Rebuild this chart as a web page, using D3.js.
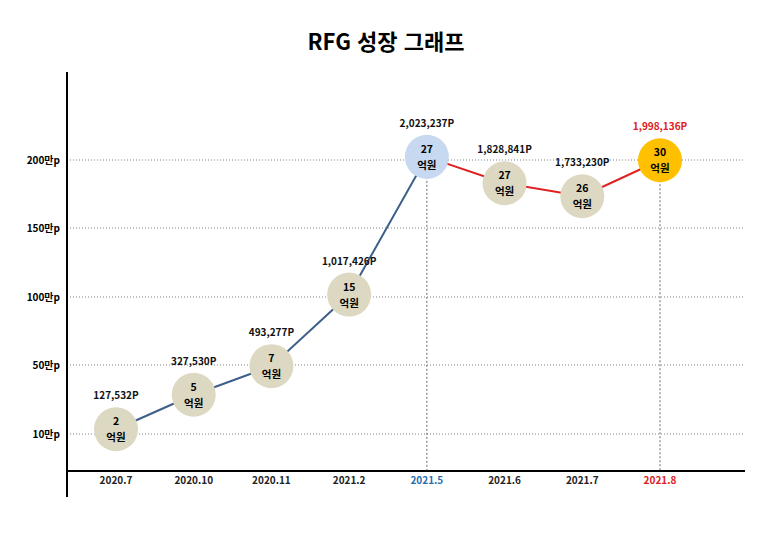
<!DOCTYPE html>
<html lang="ko">
<head>
<meta charset="utf-8" />
<script src="https://cdn.jsdelivr.net/npm/d3@7"></script>
<style>
body { margin:0; background:#fff; }
text { font-family: "Noto Sans CJK KR", "Noto Sans", sans-serif; font-weight:bold; }
</style>
</head>
<body>
<svg id="chart" width="773" height="545"></svg>
<script>
var months = ["2020.7","2020.10","2020.11","2021.2","2021.5","2021.6","2021.7","2021.8"];
var points = [127532, 327530, 493277, 1017426, 2023237, 1828841, 1733230, 1998136];
var eok = [2, 5, 7, 15, 27, 27, 26, 30];
var yTicks = [100000, 500000, 1000000, 1500000, 2000000];
var yTickLabels = ["10만p","50만p","100만p","150만p","200만p"];

var svg = d3.select("#chart");
var x = d3.scalePoint().domain(months).range([116, 660]);
// axis ticks are evenly spaced, not proportional
var y = d3.scaleLinear().domain(yTicks).range([434, 365, 297, 228, 160]);

svg.append("text").attr("x", 386).attr("y", 50).attr("text-anchor","middle")
  .attr("font-size", 22).text("RFG 성장 그래프");

// grid
svg.selectAll("line.grid").data(yTicks).enter().append("line")
  .attr("x1", 67).attr("x2", 745).attr("y1", d => y(d)).attr("y2", d => y(d))
  .attr("stroke", "#666").attr("stroke-dasharray", "1,2").attr("stroke-width", 0.8);
svg.selectAll("text.yl").data(yTicks).enter().append("text")
  .attr("x", 60).attr("y", d => y(d) + 4).attr("text-anchor", "end")
  .attr("font-size", 10).text((d, i) => yTickLabels[i]);

// axes
svg.append("line").attr("x1", 67).attr("x2", 67).attr("y1", 72).attr("y2", 497)
  .attr("stroke", "#000").attr("stroke-width", 2);
svg.append("line").attr("x1", 67).attr("x2", 745).attr("y1", 471).attr("y2", 471)
  .attr("stroke", "#000").attr("stroke-width", 2);

var highlight = {"2021.5": "#1f6fb0", "2021.8": "#e02020"};
svg.selectAll("text.xl").data(months).enter().append("text")
  .attr("x", d => x(d)).attr("y", 484).attr("text-anchor", "middle")
  .attr("font-size", 10).attr("fill", d => highlight[d] || "#222").text(d => d);

// dashed drops
["2021.5", "2021.8"].forEach(function(m) {
  var i = months.indexOf(m);
  svg.append("line").attr("x1", x(m)).attr("x2", x(m)).attr("y1", y(points[i])).attr("y2", 471)
    .attr("stroke", "#444").attr("stroke-dasharray", "2,2").attr("stroke-width", 0.8);
});

var data = months.map((m, i) => ({m: m, v: points[i], e: eok[i], i: i}));
var line = d3.line().x(d => x(d.m)).y(d => y(d.v));
svg.append("path").attr("d", line(data.slice(0, 5))).attr("fill", "none")
  .attr("stroke", "#3e5f8a").attr("stroke-width", 2);
svg.append("path").attr("d", line(data.slice(4))).attr("fill", "none")
  .attr("stroke", "#e02020").attr("stroke-width", 2);

var fills = d => d.i === 4 ? "#c6d9f0" : d.i === 7 ? "#ffc000" : "#ddd8c2";
var g = svg.selectAll("g.pt").data(data).enter().append("g")
  .attr("transform", d => "translate(" + x(d.m) + "," + y(d.v) + ")");
g.append("circle").attr("r", 22).attr("fill", fills);
g.append("text").attr("y", -4).attr("text-anchor", "middle").attr("font-size", 10.5).text(d => d.e);
g.append("text").attr("y", 12).attr("text-anchor", "middle").attr("font-size", 10.5).text("억원");
g.append("text").attr("y", -30).attr("text-anchor", "middle").attr("font-size", 10)
  .attr("fill", d => d.i === 7 ? "#e02020" : "#111")
  .text(d => d3.format(",")(d.v) + "P");
</script>
</body>
</html>
